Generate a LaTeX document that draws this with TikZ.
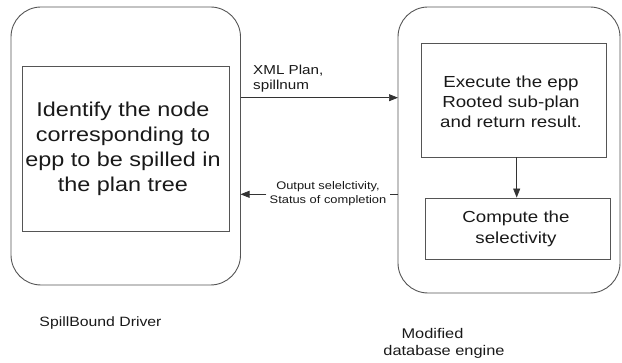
\documentclass[tikz,border=0pt]{standalone}
\usepackage{fontspec}
\setmainfont[FakeStretch=1.17]{Liberation Sans}
\usetikzlibrary{arrows.meta}
\definecolor{edge}{HTML}{555555}
\begin{document}
\begin{tikzpicture}[x=1pt,y=-1pt,
  outer/.style={draw=edge,line width=0.9pt,rounded corners=30pt},
  inner/.style={draw=edge,line width=0.9pt},
  flow/.style={draw=black!80,line width=0.7pt,-{Triangle[length=9pt,width=7pt]}},
  txt/.style={align=center,inner sep=0pt,text=black!90}]
\useasboundingbox (0,0) rectangle (622,363);
% driver side
\draw[outer] (11,7) rectangle (240.5,285);
\draw[inner] (22,66) rectangle (229,231);
\node[txt,font=\fontsize{20}{25}\selectfont] (ident) at (123,149) {Identify the node\\corresponding to\\epp to be spilled in\\the plan tree};
% engine side
\draw[outer] (398,7) rectangle (620,293);
\node[inner,minimum width=185pt,minimum height=114pt] (exec) at (514.2,100) {};
\node[txt,font=\fontsize{16}{20}\selectfont] at (511,102) {Execute the epp\\Rooted sub-plan\\ and return result.};
\node[inner,minimum width=185pt,minimum height=61pt] (comp) at (517.5,228.5) {};
\node[txt,font=\fontsize{16}{21}\selectfont] at (516,228.5) {Compute the\\selectivity};
\draw[flow] (exec.south -| 516.7,0) -- (comp.north -| 516.7,0);
% messages between the two sides
\coordinate (a1) at (240.5,97.7);
\coordinate (a2) at (398,97.7);
\draw[flow] (a1) -- (a2);
\node[txt,align=left,anchor=north west,font=\fontsize{13}{15.5}\selectfont] at (253,64.5) {XML Plan,\\spillnum};
\coordinate (b1) at (398,194.3);
\coordinate (b2) at (240.5,194.3);
\node[txt,fill=white,inner xsep=3pt,font=\fontsize{11}{14}\selectfont] (ret) at (328,193.5) {Output selelctivity,\\Status of completion};
\draw[flow] (b1) -- (ret.east |- b1) (ret.west |- b1) -- (b2);
% captions
\node[txt,font=\fontsize{13.5}{19}\selectfont] (cap1) at (100.5,323) {SpillBound Driver};
\node[txt,font=\fontsize{14}{19}\selectfont] (cap2a) at (432.5,333) {Modified};
\node[txt,font=\fontsize{14}{19}\selectfont] (cap2b) at (444,352) {database engine};
\end{tikzpicture}
\end{document}
